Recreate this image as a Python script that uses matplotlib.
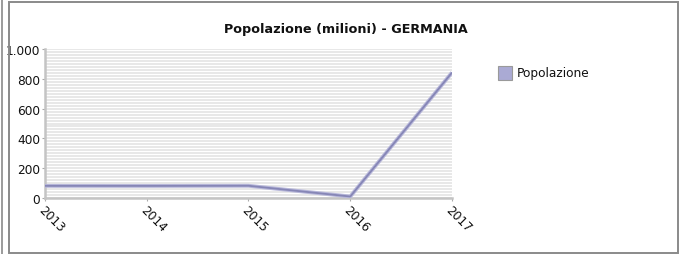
import matplotlib
matplotlib.use("Agg")
import matplotlib.pyplot as plt
from matplotlib.patches import Rectangle
from matplotlib.lines import Line2D
from matplotlib.ticker import MultipleLocator, FuncFormatter

# dati (milioni)
anni = ['2013', '2014', '2015', '2016', '2017']
popolazione = [81.5, 81.2, 82.2, 10, 842]
titolo = 'Popolazione (milioni) - GERMANIA'
nome_serie = 'Popolazione'

W, H = 681, 255
fig = plt.figure(figsize=(W / 100, H / 100), dpi=100)

# cornici esterne
fig.add_artist(Line2D([1.5 / W, 1.5 / W], [0, 1], color='#8a8a8a', lw=1.2))
fig.add_artist(Rectangle((8.5 / W, 1.0 / H), (677.5 - 8.5) / W, (251.5 - 0.5) / H,
                         fill=False, edgecolor='#8a8a8a', lw=1.4))

ax = fig.add_axes([45 / W, (H - 199) / H, (452 - 45) / W, (199 - 50) / H])
x = range(len(anni))

ax.plot(x, popolazione, color='#b8b8da', lw=2.8, solid_capstyle='butt', zorder=3)
ax.plot(x, popolazione, color='#8686b6', lw=1.3, solid_capstyle='butt', zorder=4)

ax.set_xlim(0, len(anni) - 1)
ax.set_ylim(0, 1000)
ax.yaxis.set_major_locator(MultipleLocator(200))
ax.yaxis.set_minor_locator(MultipleLocator(20))
ax.yaxis.set_major_formatter(FuncFormatter(lambda v, p: f'{int(v):,}'.replace(',', '.')))
ax.grid(which='both', axis='y', color='#e6e6e6', lw=1.3)
ax.set_axisbelow(True)

ax.set_xticks(list(x))
ax.set_xticklabels(anni, rotation=-45, ha='left', va='top', rotation_mode='anchor')

for s in ['top', 'right']:
    ax.spines[s].set_visible(False)
for s in ['left', 'bottom']:
    ax.spines[s].set_color('#c4c4c4')
    ax.spines[s].set_linewidth(1.8)

ax.tick_params(axis='both', which='major', length=2.5, color='#aaaaaa', labelsize=8.7,
               labelcolor='#111111', pad=1)
ax.tick_params(axis='y', which='minor', length=0)

fig.text(346 / W, 1 - 29 / H, titolo, ha='center', va='center',
         fontsize=9.2, fontweight='bold', color='#111111')

# legenda
fig.add_artist(Rectangle((498 / W, 1 - 81 / H), 14 / W, 14 / H,
                         facecolor='#aaaad4', edgecolor='#9a9a9a', lw=0.8))
fig.text(517 / W, 1 - 74 / H, nome_serie, ha='left', va='center',
         fontsize=8.7, color='#111111')

fig.savefig('out.png', dpi=100)
